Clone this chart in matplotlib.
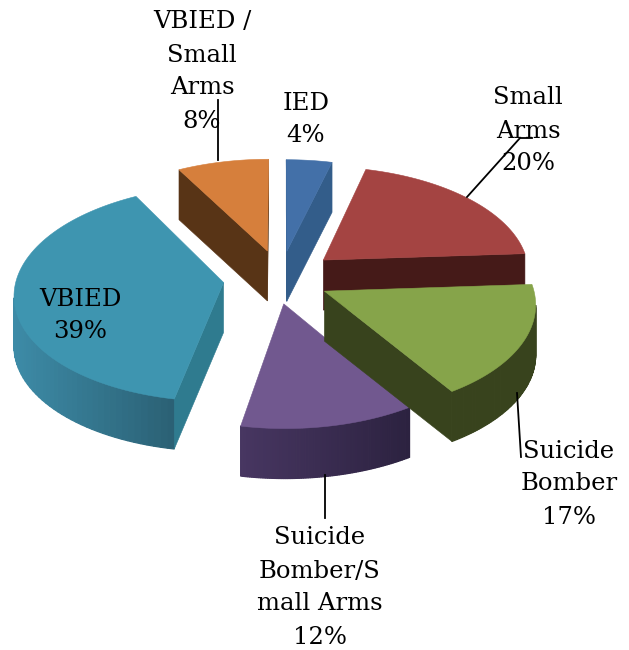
import numpy as np
import matplotlib
matplotlib.use('Agg')
import matplotlib.pyplot as plt
from matplotlib.colors import to_rgb
from matplotlib.patches import Polygon

# attack types and their share of incidents, clockwise from 12 o'clock
categories = ['IED', 'Small\nArms', 'Suicide\nBomber', 'Suicide\nBomber/S\nmall Arms', 'VBIED', 'VBIED /\nSmall\nArms']
values = [4, 20, 17, 12, 39, 8]

top_colors = ['#4370a8', '#a44442', '#86a44a', '#71588f', '#3e95b0', '#d67f3c']
cut_colors = ['#335d8a', '#451a18', '#38431d', '#2d2340', '#2f7b8f', '#583416']
wall_left = ['#335d8a', '#451a18', '#38431d', '#473661', '#3d8ba7', '#583416']
wall_right = ['#335d8a', '#451a18', '#38431d', '#2c2240', '#2b6175', '#583416']

# label centre of the first line, in pixels
label_pos = [(306, 103), (528, 98), (569, 451), (320, 538), (80, 299), (202, 22)]
line_gap = 33

# leader lines
leaders = [
    [(467, 197), (520, 138), (532, 138)],
    [(517, 393), (521, 457)],
    [(325, 475), (325, 518)],
    [(218, 100), (218, 160)],
]

# projection of the tilted pie
cx, cy = 277, 278
A, B = 207, 106
persp = 0.10
depth = 50
explode = 0.27

# small per-slice shifts of the exploded pieces, in pixels
nudge = [(3, 1), (4, 0), (-3, 0), (-4, -3), (2, 0), (4, 0)]


def project(x, y, z=0.0):
    s = 1.0 / (1.0 + persp * y)
    return cx + A * x * s, cy - B * y * s + depth * z


def signed_area(pts):
    pts = np.array(pts)
    x, y = pts[:, 0], pts[:, 1]
    return 0.5 * np.sum(x * np.roll(y, -1) - np.roll(x, -1) * y)


def draw_face(ax, pts, color):
    # faces pointing away from the viewer get culled
    if signed_area(pts) < 0:
        ax.add_patch(Polygon(pts, closed=True, facecolor=color, edgecolor=color, linewidth=0.4))


def draw_slice(ax, i, t0, t1):
    mid = 0.5 * (t0 + t1)
    ox, oy = explode * np.sin(mid), explode * np.cos(mid)
    ts = np.linspace(t0, t1, 80)
    rim_x = ox + np.sin(ts)
    rim_y = oy + np.cos(ts)
    dx, dy = nudge[i]
    shift = lambda p: (p[0] + dx, p[1] + dy)
    top = [shift(project(a, b)) for a, b in zip(rim_x, rim_y)]
    bot = [shift(project(a, b, 1)) for a, b in zip(rim_x, rim_y)]
    apex_top = shift(project(ox, oy))
    apex_bot = shift(project(ox, oy, 1))

    # outer wall, shaded left to right across the part that shows
    quads = []
    for k in range(len(ts) - 1):
        q = [top[k], top[k + 1], bot[k + 1], bot[k]]
        if signed_area(q) < 0:
            quads.append(q)
    if quads:
        xs = [q[0][0] for q in quads]
        xmin, xmax = min(xs), max(xs)
        left = np.array(to_rgb(wall_left[i]))
        right = np.array(to_rgb(wall_right[i]))
        for q in quads:
            f = (q[0][0] - xmin) / max(xmax - xmin, 1)
            c = tuple(left + (right - left) * f)
            ax.add_patch(Polygon(q, closed=True, facecolor=c, edgecolor=c, linewidth=0.9))

    # the two cut faces
    draw_face(ax, [apex_top, top[0], bot[0], apex_bot], cut_colors[i])
    draw_face(ax, [top[-1], apex_top, apex_bot, bot[-1]], cut_colors[i])

    ax.add_patch(Polygon([apex_top] + top, closed=True, facecolor=top_colors[i],
                         edgecolor=top_colors[i], linewidth=0.4))


fig = plt.figure(figsize=(6.29, 6.50), dpi=100)
ax = fig.add_axes([0, 0, 1, 1])
ax.set_xlim(0, 629)
ax.set_ylim(650, 0)
ax.axis('off')

edges = np.concatenate([[0], np.cumsum(values)]) / np.sum(values) * 2 * np.pi

# painted from the back of the pie towards the front
for i in [0, 5, 1, 4, 3, 2]:
    draw_slice(ax, i, edges[i], edges[i + 1])

for line in leaders:
    pts = np.array(line)
    ax.plot(pts[:, 0], pts[:, 1], color='black', lw=1.3, zorder=5)

for name, val, (x, y) in zip(categories, values, label_pos):
    for n, txt in enumerate(name.split('\n') + [str(val) + '%']):
        ax.text(x, y + n * line_gap, txt, ha='center', va='center', family='DejaVu Serif',
                fontsize=17.5, color='black', zorder=6)

fig.savefig('out.png', dpi=100)
